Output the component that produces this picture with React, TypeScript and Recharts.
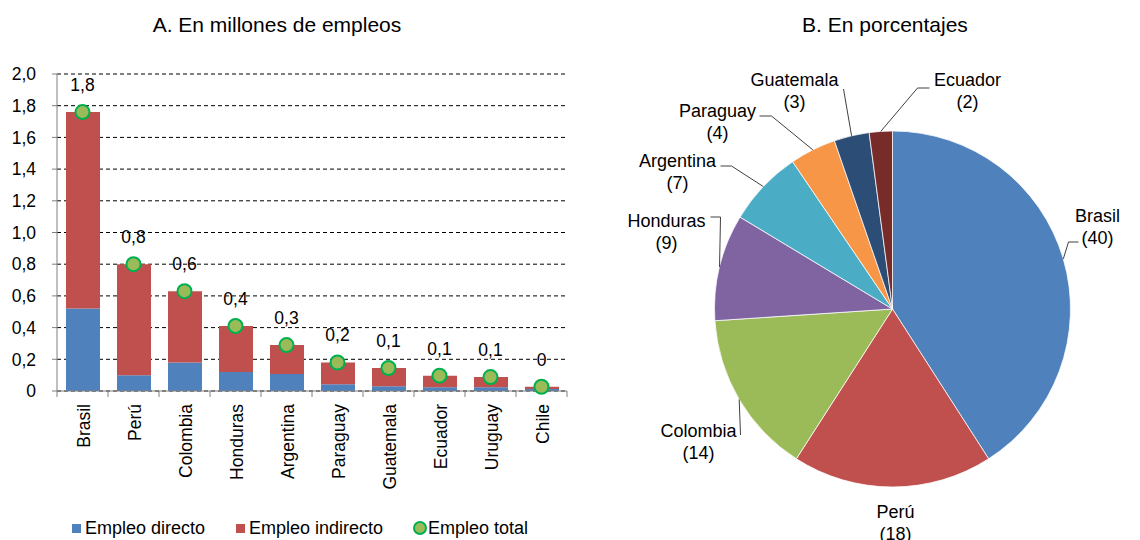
import React from 'react';
import {
  ComposedChart,
  Bar,
  Line,
  XAxis,
  YAxis,
  CartesianGrid,
  LabelList,
  PieChart,
  Pie,
  Cell,
} from 'recharts';

const categories = ['Brasil', 'Perú', 'Colombia', 'Honduras', 'Argentina', 'Paraguay', 'Guatemala', 'Ecuador', 'Uruguay', 'Chile'];
const directo = [0.52, 0.1, 0.18, 0.12, 0.107, 0.042, 0.03, 0.023, 0.023, 0.013];
const indirecto = [1.24, 0.7, 0.45, 0.29, 0.183, 0.138, 0.115, 0.074, 0.065, 0.014];
const total = [1.76, 0.8, 0.63, 0.41, 0.29, 0.18, 0.145, 0.097, 0.088, 0.027];
const totalLabels = ['1,8', '0,8', '0,6', '0,4', '0,3', '0,2', '0,1', '0,1', '0,1', '0'];
const yTicks = [0, 0.2, 0.4, 0.6, 0.8, 1.0, 1.2, 1.4, 1.6, 1.8, 2.0];

const pieNames = ['Brasil', 'Perú', 'Colombia', 'Honduras', 'Argentina', 'Paraguay', 'Guatemala', 'Ecuador'];
const pieValues = [41.0, 18.2, 14.9, 9.7, 6.9, 4.2, 3.2, 2.1];
const pieLabels = ['40', '18', '14', '9', '7', '4', '3', '2'];
const pieColors = ['#4F81BD', '#C0504D', '#9BBB59', '#8064A2', '#4BACC6', '#F79646', '#2C4D75', '#772C2A'];

// label placement relative to the pie centre (hand-placed in the original)
const pieLabelPos = [
  { t: [205, -94], elbow: [176, -67], end: [186, -67] },
  { t: [3, 202], elbow: null, end: null },
  { t: [-194, 121], elbow: [-152, 126], end: [-152, 126] },
  { t: [-226, -89], elbow: [-172, -92], end: [-182, -92] },
  { t: [-215, -149], elbow: [-161, -143], end: [-172, -143] },
  { t: [-175, -199], elbow: [-121, -193], end: [-133, -193] },
  { t: [-98, -230], elbow: [-49, -220], end: [-49, -220] },
  { t: [75, -230], elbow: [25, -221], end: [37, -221] },
];

const FONT = '"Liberation Sans", Arial, sans-serif';
const PLOT_W = 510;
const FS = 17.5;

const barData = categories.map((name, i) => ({
  name,
  directo: directo[i],
  indirecto: indirecto[i],
  total: total[i],
  label: totalLabels[i],
}));

const pieData = pieNames.map((name, i) => ({ name, value: pieValues[i], pct: pieLabels[i] }));

const fmt = (v: number) => (v === 0 ? '0' : v.toFixed(1).replace('.', ','));

function XTick(props: any) {
  const { x, y, payload, index } = props;
  const band = PLOT_W / categories.length;
  return (
    <g>
      <line x1={x - band / 2} x2={x - band / 2} y1={y} y2={y + 6} stroke="#808080" />
      {index === categories.length - 1 && (
        <line x1={x + band / 2} x2={x + band / 2} y1={y} y2={y + 6} stroke="#808080" />
      )}
      <text
        transform={`translate(${x + 1},${y + 13}) rotate(-90)`}
        textAnchor="end"
        dominantBaseline="central"
        fontSize={FS}
        fontFamily={FONT}
        fill="#000"
      >
        {payload.value}
      </text>
    </g>
  );
}

function TotalDot(props: any) {
  const { cx, cy } = props;
  if (cx == null || cy == null) return null;
  return <circle cx={cx} cy={cy} r={7} fill="#9BBB59" stroke="#00B050" strokeWidth={2} />;
}

function TotalLabel(props: any) {
  const { x, y, value } = props;
  return (
    <text x={x} y={y - 21} textAnchor="middle" fontSize={FS} fontFamily={FONT} fill="#000">
      {value}
    </text>
  );
}

const RAD = Math.PI / 180;

function PieLabel(props: any) {
  const { cx, cy, midAngle, outerRadius, index } = props;
  const pos = pieLabelPos[index];
  const ax = cx + outerRadius * Math.cos(-midAngle * RAD);
  const ay = cy + outerRadius * Math.sin(-midAngle * RAD);
  return (
    <g>
      {pos.elbow && (
        <polyline
          points={`${ax},${ay} ${cx + pos.elbow[0]},${cy + pos.elbow[1]} ${cx + pos.end![0]},${cy + pos.end![1]}`}
          fill="none"
          stroke="#404040"
          strokeWidth={1}
        />
      )}
      <text x={cx + pos.t[0]} y={cy + pos.t[1] + 6.5} textAnchor="middle" fontSize={18} fontFamily={FONT} fill="#000">
        {pieData[index].name}
      </text>
      <text x={cx + pos.t[0]} y={cy + pos.t[1] + 28.5} textAnchor="middle" fontSize={18} fontFamily={FONT} fill="#000">
        ({pieData[index].pct})
      </text>
    </g>
  );
}

export default function App() {
  const titleStyle: React.CSSProperties = {
    position: 'absolute',
    top: 12,
    fontFamily: FONT,
    fontSize: 21,
    lineHeight: '26px',
    color: '#000',
    textAlign: 'center',
  };
  const legendText: React.CSSProperties = {
    position: 'absolute',
    top: 518,
    fontFamily: FONT,
    fontSize: 18,
    color: '#000',
    lineHeight: '20px',
    whiteSpace: 'nowrap',
  };
  return (
    <div style={{ position: 'absolute', left: 0, top: 0, width: 1140, height: 540, background: '#fff', overflow: 'hidden' }}>
      <div style={{ ...titleStyle, left: 77, width: 400 }}>A. En millones de empleos</div>
      <div style={{ ...titleStyle, left: 735, width: 300 }}>B. En porcentajes</div>

      <div style={{ position: 'absolute', left: 0, top: 0 }}>
        <ComposedChart
          width={580}
          height={540}
          data={barData}
          margin={{ top: 74, right: 13, bottom: 89, left: 0 }}
          barSize={34}
        >
          <CartesianGrid vertical={false} stroke="#000" strokeDasharray="4 3" />
          <YAxis
            width={57}
            domain={[0, 2]}
            ticks={yTicks}
            tickFormatter={fmt}
            tick={{ fontSize: FS, fill: '#000', fontFamily: FONT }}
            tickSize={5}
            tickMargin={16}
            stroke="#808080"
            interval={0}
          />
          <XAxis
            dataKey="name"
            height={60}
            interval={0}
            tickLine={false}
            tickSize={0}
            tickMargin={0}
            stroke="#808080"
            tick={<XTick />}
          />
          <Bar dataKey="directo" stackId="a" fill="#4F81BD" isAnimationActive={false} />
          <Bar dataKey="indirecto" stackId="a" fill="#C0504D" isAnimationActive={false} />
          <Line
            dataKey="total"
            stroke="none"
            strokeWidth={0}
            dot={<TotalDot />}
            activeDot={false}
            isAnimationActive={false}
          >
            <LabelList dataKey="label" content={<TotalLabel />} />
          </Line>
        </ComposedChart>
      </div>

      <div style={{ position: 'absolute', left: 72, top: 524, width: 9, height: 9, background: '#4F81BD' }} />
      <div style={{ ...legendText, left: 85 }}>Empleo directo</div>
      <div style={{ position: 'absolute', left: 236, top: 524, width: 9, height: 9, background: '#C0504D' }} />
      <div style={{ ...legendText, left: 249 }}>Empleo indirecto</div>
      <div
        style={{
          position: 'absolute',
          left: 413,
          top: 521,
          width: 10,
          height: 10,
          borderRadius: '50%',
          background: '#9BBB59',
          border: '2px solid #00B050',
        }}
      />
      <div style={{ ...legendText, left: 428 }}>Empleo total</div>

      <div style={{ position: 'absolute', left: 580, top: 0 }}>
        <PieChart width={560} height={540} margin={{ top: 0, right: 0, bottom: 0, left: 0 }}>
          <Pie
            data={pieData}
            dataKey="value"
            nameKey="name"
            cx={312.5}
            cy={309}
            outerRadius={178}
            startAngle={90}
            endAngle={-270}
            stroke="#ffffff"
            strokeWidth={0.75}
            label={PieLabel}
            labelLine={false}
            isAnimationActive={false}
          >
            {pieData.map((d, i) => (
              <Cell key={d.name} fill={pieColors[i]} />
            ))}
          </Pie>
        </PieChart>
      </div>
    </div>
  );
}
